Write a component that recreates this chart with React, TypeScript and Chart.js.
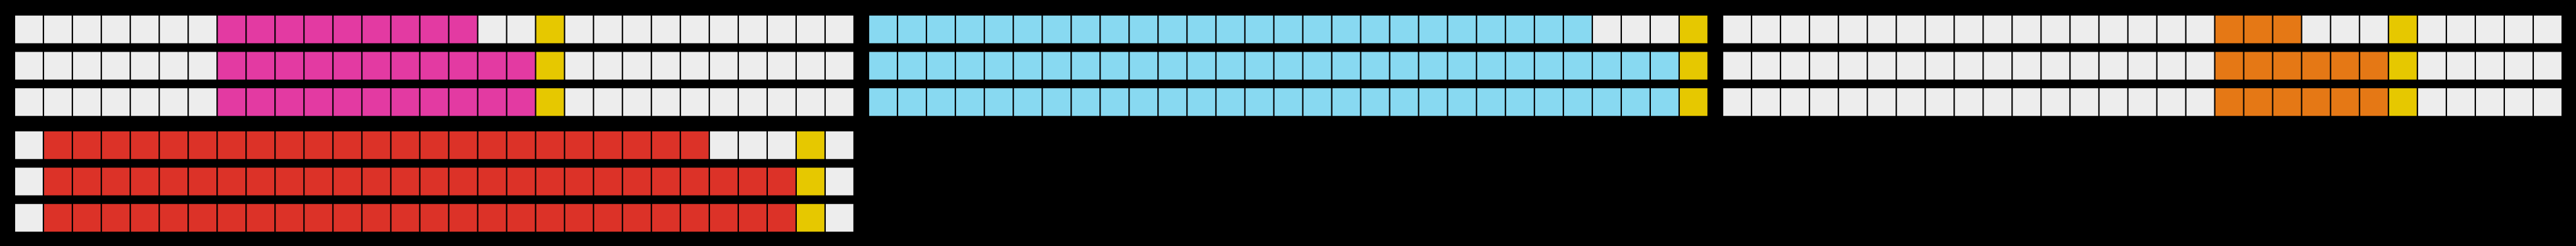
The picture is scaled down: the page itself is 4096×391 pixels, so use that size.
import React, { useEffect, useRef } from "react";
import { Chart, registerables } from "chart.js";

Chart.register(...registerables);

// ---------- data ----------
const CELL_COUNT = 29;
const ROW_LABELS = ["Row 1", "Row 2", "Row 3"];

// Panel A (magenta): filled cells [from, to), marker cell index
const magentaFrom = [7, 7, 7];
const magentaTo = [16, 18, 18];
const magentaMarker = [18, 18, 18];

// Panel B (cyan)
const cyanFrom = [0, 0, 0];
const cyanTo = [25, 28, 28];
const cyanMarker = [28, 28, 28];

// Panel C (orange)
const orangeFrom = [17, 17, 17];
const orangeTo = [20, 23, 23];
const orangeMarker = [23, 23, 23];

// Panel D (red)
const redFrom = [1, 1, 1];
const redTo = [24, 27, 27];
const redMarker = [27, 27, 27];

// ---------- styles ----------
const EMPTY = "#EDEDED";
const MARKER = "#E6C800";
const BG = "#000000";

const S = 4096 / 5696;

type PanelDef = {
  color: string;
  from: number[];
  to: number[];
  marker: number[];
  col: number;
  row: number;
};

const PANELS: PanelDef[] = [
  { color: "#E33AA2", from: magentaFrom, to: magentaTo, marker: magentaMarker, col: 0, row: 0 },
  { color: "#88D9F1", from: cyanFrom, to: cyanTo, marker: cyanMarker, col: 1, row: 0 },
  { color: "#E57815", from: orangeFrom, to: orangeTo, marker: orangeMarker, col: 2, row: 0 },
  { color: "#DC3228", from: redFrom, to: redTo, marker: redMarker, col: 0, row: 1 },
];

// layout in reference pixels (scaled by S)
const CELL = 64;
const LEFT0 = 32.5;
const COL_STEP = (CELL_COUNT + 0.5) * CELL;
const TOPS = [24.5, 280.5];
const PANEL_W = CELL_COUNT * CELL;
const PANEL_H = 240;

function Panel({ def }: { def: PanelDef }) {
  const ref = useRef<HTMLCanvasElement | null>(null);
  useEffect(() => {
    if (!ref.current) return;
    const datasets = Array.from({ length: CELL_COUNT }, (_, i) => ({
      label: `cell ${i + 1}`,
      data: ROW_LABELS.map(() => [i, i + 1] as [number, number]),
      backgroundColor: ROW_LABELS.map((_, r) =>
        i === def.marker[r] ? MARKER : i >= def.from[r] && i < def.to[r] ? def.color : EMPTY
      ),
      borderColor: BG,
      borderWidth: 1.5 * S,
      borderSkipped: false as const,
      grouped: false,
      categoryPercentage: 0.8,
      barPercentage: 1,
    }));
    const chart = new Chart(ref.current, {
      type: "bar",
      data: { labels: ROW_LABELS, datasets },
      options: {
        indexAxis: "y",
        animation: false,
        responsive: true,
        maintainAspectRatio: false,
        events: [],
        layout: { padding: 0 },
        plugins: { legend: { display: false }, tooltip: { enabled: false } },
        scales: {
          x: { type: "linear", min: 0, max: CELL_COUNT, display: false },
          y: { type: "category", display: false, offset: true },
        },
      },
    });
    return () => chart.destroy();
  }, [def]);

  const left = Math.round((LEFT0 + def.col * COL_STEP) * S);
  const top = Math.round(TOPS[def.row] * S);
  const width = Math.round(PANEL_W * S);
  const height = Math.round(PANEL_H * S);
  return (
    <div style={{ position: "absolute", left, top, width, height }}>
      <canvas ref={ref} />
    </div>
  );
}

export default function App() {
  return (
    <div style={{ position: "fixed", left: 0, top: 0, width: "100vw", height: "100vh", background: BG, overflow: "hidden" }}>
      {PANELS.map((p, k) => (
        <Panel key={k} def={p} />
      ))}
    </div>
  );
}
